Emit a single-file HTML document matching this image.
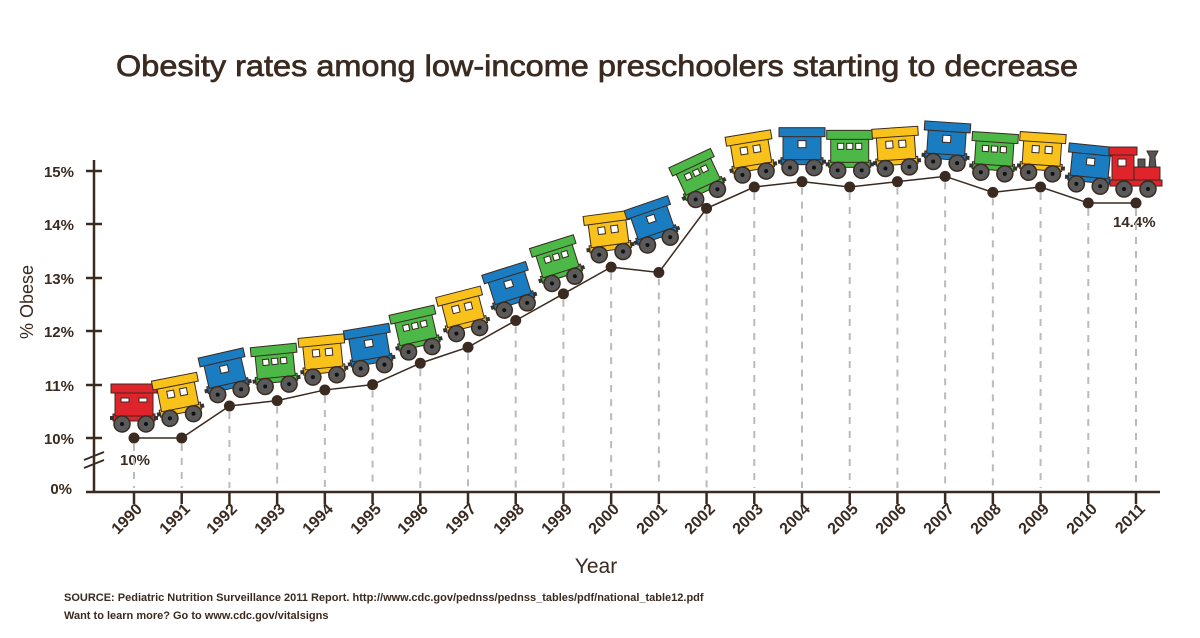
<!DOCTYPE html>
<html><head><meta charset="utf-8"><style>
html,body{margin:0;padding:0;background:#fff;}
svg{display:block;font-family:"Liberation Sans",sans-serif;}
</style></head><body>
<svg id="s" width="1200" height="638" viewBox="0 0 1200 638" xmlns="http://www.w3.org/2000/svg">
<rect width="1200" height="638" fill="#fff"/>
<text x="597" y="76" text-anchor="middle" font-size="30" fill="#3a2a20" stroke="#3a2a20" stroke-width="0.7" textLength="962" lengthAdjust="spacingAndGlyphs">Obesity rates among low-income preschoolers starting to decrease</text>
<g stroke="#3a2a20" stroke-width="2.5" fill="none">
<line x1="94" y1="160" x2="94" y2="492"/>
<line x1="86" y1="492" x2="1160" y2="492"/>
<line x1="84" y1="460" x2="104" y2="452" stroke-width="2"/>
<line x1="84" y1="468" x2="104" y2="460" stroke-width="2"/>
<line x1="86" y1="171" x2="102" y2="171"/>
<line x1="86" y1="224" x2="102" y2="224"/>
<line x1="86" y1="278" x2="102" y2="278"/>
<line x1="86" y1="331" x2="102" y2="331"/>
<line x1="86" y1="385" x2="102" y2="385"/>
<line x1="86" y1="438" x2="102" y2="438"/>
</g>
<g font-size="15" font-weight="bold" fill="#3a2a20" text-anchor="end">
<text x="74" y="177">15%</text><text x="74" y="230">14%</text><text x="74" y="284">13%</text>
<text x="74" y="337">12%</text><text x="74" y="391">11%</text><text x="74" y="444">10%</text>
<text x="72" y="494">0%</text>
</g>
<text transform="translate(33,302) rotate(-90)" text-anchor="middle" font-size="18" fill="#3a2a20">% Obese</text>
<text x="596" y="573" text-anchor="middle" font-size="21" fill="#3a2a20">Year</text>
<g id="xl" font-size="16" font-weight="bold" fill="#3a2a20" text-anchor="end">
<text transform="translate(143,510) rotate(-45)">1990</text>
<text transform="translate(191,510) rotate(-45)">1991</text>
<text transform="translate(238,510) rotate(-45)">1992</text>
<text transform="translate(286,510) rotate(-45)">1993</text>
<text transform="translate(334,510) rotate(-45)">1994</text>
<text transform="translate(382,510) rotate(-45)">1995</text>
<text transform="translate(429,510) rotate(-45)">1996</text>
<text transform="translate(477,510) rotate(-45)">1997</text>
<text transform="translate(525,510) rotate(-45)">1998</text>
<text transform="translate(573,510) rotate(-45)">1999</text>
<text transform="translate(620,510) rotate(-45)">2000</text>
<text transform="translate(668,510) rotate(-45)">2001</text>
<text transform="translate(716,510) rotate(-45)">2002</text>
<text transform="translate(764,510) rotate(-45)">2003</text>
<text transform="translate(811,510) rotate(-45)">2004</text>
<text transform="translate(859,510) rotate(-45)">2005</text>
<text transform="translate(907,510) rotate(-45)">2006</text>
<text transform="translate(955,510) rotate(-45)">2007</text>
<text transform="translate(1002,510) rotate(-45)">2008</text>
<text transform="translate(1050,510) rotate(-45)">2009</text>
<text transform="translate(1098,510) rotate(-45)">2010</text>
<text transform="translate(1146,510) rotate(-45)">2011</text>
</g>
<text x="120" y="465" font-size="15" font-weight="bold" fill="#3a2a20">10%</text>
<text x="1113" y="227" font-size="15" font-weight="bold" fill="#3a2a20">14.4%</text>
<text x="64" y="601" font-size="11" font-weight="bold" fill="#3a2a20">SOURCE: Pediatric Nutrition Surveillance 2011 Report. http://www.cdc.gov/pednss/pednss_tables/pdf/national_table12.pdf</text>
<text x="64" y="619" font-size="11" font-weight="bold" fill="#3a2a20">Want to learn more? Go to www.cdc.gov/vitalsigns</text>
<g id="plot"></g>
</svg>
<script>
(function(){
var d=[10.0,10.0,10.6,10.7,10.9,11.0,11.4,11.7,12.2,12.7,13.2,13.1,14.3,14.7,14.8,14.7,14.8,14.9,14.6,14.7,14.4,14.4];
var col=['r','y','b','g','y','b','g','y','b','g','y','b','g','y','b','g','y','b','g','y','b','e'];
var C={r:'#e0242b',y:'#f9c21a',b:'#1a7cc1',g:'#4cb848',e:'#e0242b'};
var X=function(i){return 134+i*47.714;},Y=function(v){return 438-(v-10)*53.4;};
var s='';
for(var i=0;i<d.length;i++){s+='<line x1="'+X(i)+'" y1="'+(Y(d[i])+6)+'" x2="'+X(i)+'" y2="488" stroke="#bbb" stroke-width="2" stroke-dasharray="7,7"/>';
s+='<line x1="'+X(i)+'" y1="492" x2="'+X(i)+'" y2="504" stroke="#3a2a20" stroke-width="2.5"/>';}
var p='';for(i=0;i<d.length;i++)p+=(i?'L':'M')+X(i)+' '+Y(d[i]);
s+='<path d="'+p+'" fill="none" stroke="#3a2a20" stroke-width="1.5"/>';
for(i=0;i<d.length;i++){
 var pv=i>0?d[i-1]:d[i],nx=i<d.length-1?d[i+1]:d[i];
 var a=d[i]-pv,b=nx-d[i];
 var sl=(i==0?b:(i==d.length-1?a:(a+b)/2));
 var ang=-0.6*Math.atan2(sl*53.4,47.7)*180/Math.PI;
 var sm=0.25*pv+0.5*d[i]+0.25*nx;
 if(i==0||i==d.length-1)sm=d[i];
 var cx=X(i),cy=Y(Math.max(sm,d[i]))-14;
 var c=C[col[i]],o='#3a2a20',g='';
 if(col[i]=='e'){
  g+='<rect x="-24" y="-36" width="22" height="30" fill="'+c+'" stroke="'+o+'"/>';
  g+='<rect x="-27" y="-42" width="28" height="8" fill="'+c+'" stroke="'+o+'"/>';
  g+='<rect x="-2" y="-22" width="26" height="16" fill="'+c+'" stroke="'+o+'"/>';
  g+='<rect x="2" y="-30" width="7" height="8" fill="#555" stroke="'+o+'"/>';
  g+='<path d="M13 -22 L14 -32 L11 -38 L22 -38 L19 -32 L20 -22Z" fill="#555" stroke="'+o+'"/>';
  g+='<rect x="-18" y="-30" width="8" height="7" fill="#fff" stroke="'+o+'"/>';
  g+='<rect x="-26" y="-9" width="52" height="6" fill="'+c+'" stroke="'+o+'"/>';
 } else {
  g+='<rect x="-21" y="-10" width="42" height="7" fill="'+c+'" stroke="'+o+'"/>';
  g+='<rect x="-24" y="-8" width="4" height="4" fill="#333"/><rect x="20" y="-8" width="4" height="4" fill="#333"/>';
  g+='<rect x="-19" y="-32" width="38" height="24" fill="'+c+'" stroke="'+o+'"/>';
  g+='<rect x="-23" y="-40" width="46" height="9" fill="'+c+'" stroke="'+o+'"/>';
  if(col[i]=='b')g+='<rect x="-4" y="-27" width="8" height="7" fill="#fff" stroke="'+o+'"/>';
  else if(col[i]=='g')g+='<rect x="-12" y="-27" width="6" height="6" fill="#fff" stroke="'+o+'"/><rect x="-3" y="-27" width="6" height="6" fill="#fff" stroke="'+o+'"/><rect x="6" y="-27" width="6" height="6" fill="#fff" stroke="'+o+'"/>';
  else if(col[i]=='y')g+='<rect x="-10" y="-27" width="7" height="7" fill="#fff" stroke="'+o+'"/><rect x="3" y="-27" width="7" height="7" fill="#fff" stroke="'+o+'"/>';
  else g+='<rect x="-13" y="-26" width="8" height="4" fill="#fff" stroke="'+o+'"/><rect x="5" y="-26" width="8" height="4" fill="#fff" stroke="'+o+'"/>';
 }
 g+='<circle cx="-12" cy="0" r="8" fill="#5a5a5a" stroke="'+o+'" stroke-width="1.5"/><circle cx="-12" cy="0" r="2" fill="#111"/>';
 g+='<circle cx="12" cy="0" r="8" fill="#5a5a5a" stroke="'+o+'" stroke-width="1.5"/><circle cx="12" cy="0" r="2" fill="#111"/>';
 s+='<g transform="translate('+cx+','+cy+') rotate('+ang+')">'+g+'</g>';
}
for(i=0;i<d.length;i++)s+='<circle cx="'+X(i)+'" cy="'+Y(d[i])+'" r="5.5" fill="#3a2a20"/>';
document.getElementById('plot').innerHTML=s;
})();
</script>
</body></html>
